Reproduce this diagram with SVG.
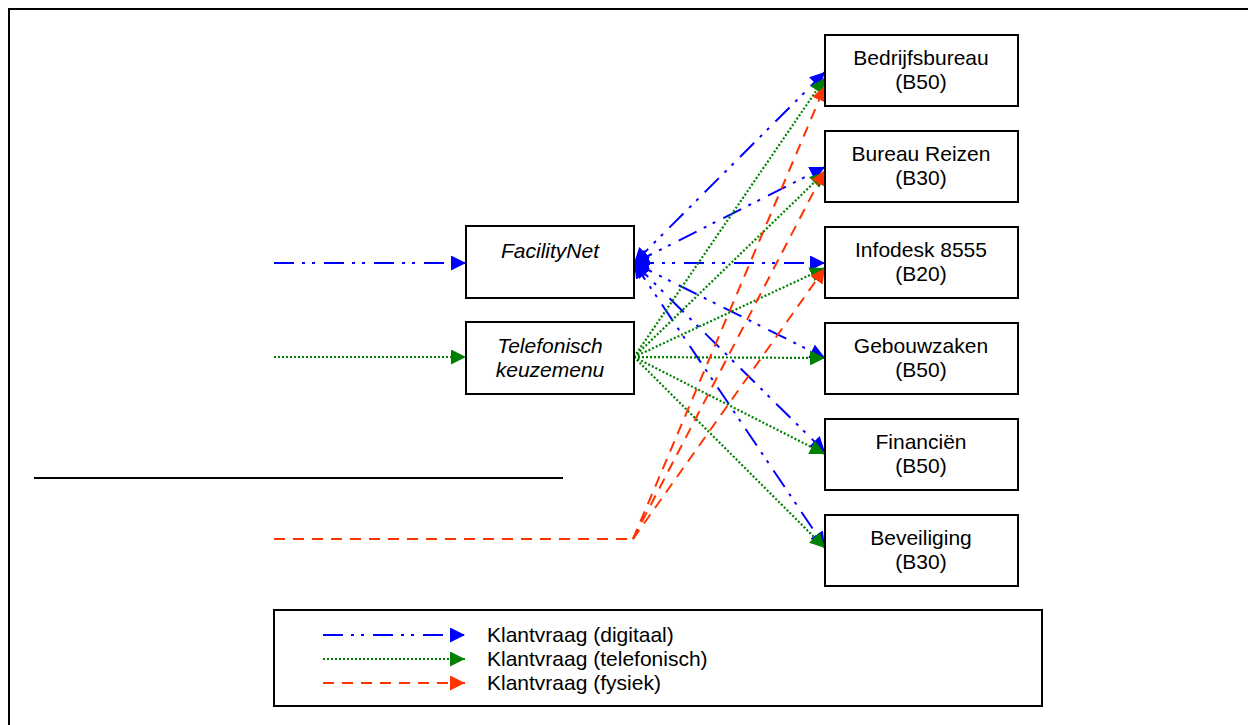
<svg xmlns="http://www.w3.org/2000/svg" width="1248" height="725" viewBox="0 0 1248 725">
<style>
.box{fill:#fff;stroke:#000;stroke-width:2}
.t{font-family:"Liberation Sans",Arial,sans-serif;font-size:21px;fill:#000;text-anchor:middle}
.i{font-style:italic}
.lt{font-family:"Liberation Sans",Arial,sans-serif;font-size:21px;fill:#000}
.dig{fill:none;stroke:#0000ff;stroke-width:2;stroke-dasharray:20 8 3 7 3 9}
.tel{fill:none;stroke:#008000;stroke-width:2.2;stroke-dasharray:2 2}
.fys{fill:none;stroke:#ff3300;stroke-width:2;stroke-dasharray:11 8}
</style>
<defs>
<marker id="ab" viewBox="0 0 10 10" refX="10" refY="5" markerWidth="15" markerHeight="15" markerUnits="userSpaceOnUse" orient="auto-start-reverse"><path d="M0,0 L10,5 L0,10 z" fill="#0000ff"/></marker>
<marker id="ag" viewBox="0 0 10 10" refX="10" refY="5" markerWidth="15" markerHeight="15" markerUnits="userSpaceOnUse" orient="auto"><path d="M0,0 L10,5 L0,10 z" fill="#008000"/></marker>
<marker id="ar" viewBox="0 0 10 10" refX="10" refY="5" markerWidth="15" markerHeight="15" markerUnits="userSpaceOnUse" orient="auto"><path d="M0,0 L10,5 L0,10 z" fill="#ff3300"/></marker>
</defs>
<rect width="1248" height="725" fill="#fff"/>
<path d="M9,740 L9,9 L1260,9" fill="none" stroke="#000" stroke-width="2"/>
<line x1="34" y1="478" x2="563" y2="478" stroke="#000" stroke-width="2"/>

<g id="connectors">
<line class="dig" x1="274" y1="263" x2="466" y2="263" marker-end="url(#ab)"/>
<line class="tel" x1="274" y1="357" x2="466" y2="357" marker-end="url(#ag)"/>
<polyline class="fys" points="274,539 633,539"/>

<line class="dig" x1="634" y1="263" x2="825" y2="72" marker-start="url(#ab)" marker-end="url(#ab)"/>
<line class="dig" x1="634" y1="263" x2="825" y2="167" marker-start="url(#ab)" marker-end="url(#ab)"/>
<line class="dig" x1="634" y1="263" x2="825" y2="263" marker-start="url(#ab)" marker-end="url(#ab)"/>
<line class="dig" x1="634" y1="263" x2="825" y2="358" marker-start="url(#ab)" marker-end="url(#ab)"/>
<line class="dig" x1="634" y1="263" x2="825" y2="452" marker-start="url(#ab)" marker-end="url(#ab)"/>
<line class="dig" x1="634" y1="263" x2="825" y2="547" marker-start="url(#ab)" marker-end="url(#ab)"/>

<line class="tel" x1="634" y1="357" x2="825" y2="78" marker-end="url(#ag)"/>
<line class="tel" x1="634" y1="357" x2="825" y2="172" marker-end="url(#ag)"/>
<line class="tel" x1="634" y1="357" x2="825" y2="268" marker-end="url(#ag)"/>
<line class="tel" x1="634" y1="357" x2="825" y2="358" marker-end="url(#ag)"/>
<line class="tel" x1="634" y1="357" x2="825" y2="454" marker-end="url(#ag)"/>
<line class="tel" x1="634" y1="357" x2="825" y2="548" marker-end="url(#ag)"/>

<line class="fys" x1="633" y1="539" x2="825" y2="86" marker-end="url(#ar)"/>
<line class="fys" x1="633" y1="539" x2="825" y2="170" marker-end="url(#ar)"/>
<line class="fys" x1="633" y1="539" x2="825" y2="268" marker-end="url(#ar)"/>
</g>

<g id="facilitynet"><rect class="box" x="466" y="226" width="168" height="72"/><text class="t i" x="550" y="258">FacilityNet</text></g>
<g id="telefonisch"><rect class="box" x="466" y="322" width="168" height="72"/><text class="t i" x="550" y="353">Telefonisch</text><text class="t i" x="550" y="377">keuzemenu</text></g>

<g id="bedrijfsbureau"><rect class="box" x="825" y="35" width="193" height="71"/><text class="t" x="921" y="65">Bedrijfsbureau</text><text class="t" x="921" y="89">(B50)</text></g>
<g id="bureaureizen"><rect class="box" x="825" y="131" width="193" height="71"/><text class="t" x="921" y="161">Bureau Reizen</text><text class="t" x="921" y="185">(B30)</text></g>
<g id="infodesk"><rect class="box" x="825" y="227" width="193" height="71"/><text class="t" x="921" y="257">Infodesk 8555</text><text class="t" x="921" y="281">(B20)</text></g>
<g id="gebouwzaken"><rect class="box" x="825" y="323" width="193" height="71"/><text class="t" x="921" y="353">Gebouwzaken</text><text class="t" x="921" y="377">(B50)</text></g>
<g id="financien"><rect class="box" x="825" y="419" width="193" height="71"/><text class="t" x="921" y="449">Financiën</text><text class="t" x="921" y="473">(B50)</text></g>
<g id="beveiliging"><rect class="box" x="825" y="515" width="193" height="71"/><text class="t" x="921" y="545">Beveiliging</text><text class="t" x="921" y="569">(B30)</text></g>

<g id="legend">
<rect class="box" x="274" y="610" width="768" height="96"/>
<line class="dig" x1="323" y1="635" x2="465" y2="635" marker-end="url(#ab)"/>
<line class="tel" x1="323" y1="659" x2="465" y2="659" marker-end="url(#ag)"/>
<line class="fys" x1="323" y1="683" x2="465" y2="683" marker-end="url(#ar)"/>
<text class="lt" x="487" y="642">Klantvraag (digitaal)</text>
<text class="lt" x="487" y="666">Klantvraag (telefonisch)</text>
<text class="lt" x="487" y="690">Klantvraag (fysiek)</text>
</g>
</svg>
